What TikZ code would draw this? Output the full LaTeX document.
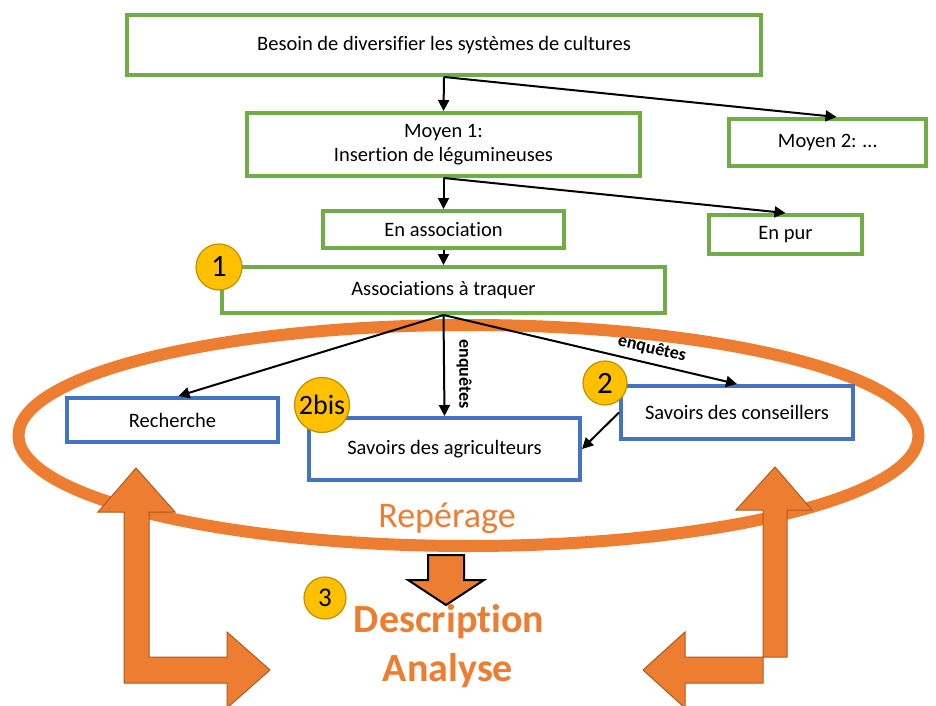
\documentclass[tikz,border=0pt]{standalone}
\usepackage{fontspec}
\setmainfont{Carlito}[Ligatures=NoCommon]
\usetikzlibrary{arrows.meta,calc}
\definecolor{lgreen}{HTML}{70AD47}
\definecolor{lblue}{HTML}{4472C4}
\definecolor{lorange}{HTML}{ED7D31}
\definecolor{dorange}{HTML}{AE5A21}
\definecolor{lgold}{HTML}{FFC000}
\definecolor{dgold}{HTML}{BF9000}
\begin{document}
\begin{tikzpicture}[x=1pt,y=-1pt,
  gbox/.style={draw=lgreen,line width=4pt,fill=white,rectangle,inner sep=0pt,align=center,font=\fontsize{20.5}{24}\selectfont},
  bbox/.style={draw=lblue,line width=4pt,fill=white,rectangle,inner sep=0pt,align=center,font=\fontsize{20.5}{24}\selectfont},
  arr/.style={line width=2pt,-{Triangle[length=11pt,width=11pt]}},
  lab/.style={font=\bfseries\fontsize{18}{20}\selectfont,inner sep=0pt},
  badge/.style={circle,draw=dgold,line width=1.2pt,fill=lgold,inner sep=0pt},
  bigarrow/.style={fill=lorange,draw=dorange,line width=1pt,line join=miter}
]
\useasboundingbox (0,0) rectangle (936,706);
\fill[white] (0,0) rectangle (936,706);

% ellipse (Repérage)
\draw[lorange,line width=12pt] (468.5,435.5) ellipse [x radius=450, y radius=110.5];

% boxes
\node[gbox,minimum width=634,minimum height=60] (besoin) at (444,45) {Besoin de diversifier les systèmes de cultures};
\node[gbox,minimum width=393,minimum height=63] (moyen1) at (443.5,144.5) {Moyen 1:\\Insertion de légumineuses};
\node[gbox,minimum width=197,minimum height=47] (moyen2) at (827.5,142.5) {Moyen 2: …};
\node[gbox,minimum width=241,minimum height=37] (enassoc) at (443.5,229.5) {En association};
\node[gbox,minimum width=153,minimum height=39] (enpur) at (785.5,234.5) {En pur};
\node[gbox,minimum width=443,minimum height=46] (traquer) at (443.5,290) {Associations à traquer};
\node[bbox,minimum width=211,minimum height=44] (recherche) at (172.5,420) {Recherche};
\node[bbox,minimum width=271,minimum height=62] (agri) at (444.5,449) {Savoirs des agriculteurs};
\node[bbox,minimum width=232,minimum height=53] (conseil) at (737,412.5) {Savoirs des conseillers};

% connectors
\draw[arr] (besoin.south) -- (moyen1.north);
\draw[arr] (besoin.south) -- ($(moyen2.north)+(9,0)$);
\draw[arr] (moyen1.south) -- (enassoc.north);
\draw[arr] (moyen1.south) -- (enpur.north);
\draw[arr] (enassoc.south) -- (traquer.north);
\draw[arr] (traquer.south) -- ($(recherche.north)+(6,0)$);
\draw[arr] (traquer.south) -- (agri.north);
\draw[arr] (traquer.south) -- (conseil.north);
\draw[arr] (conseil.west) -- (agri.east);
\node[lab,rotate=-90] (enq1) at (464,374) {enquêtes};
\node[lab,rotate=-13.2] (enq2) at (652,349) {enquêtes};

% badges
\node[badge,minimum size=46,font=\fontsize{31}{31}\selectfont] (b1) at (219,267) {1};
\node[badge,minimum size=55,font=\fontsize{28}{28}\selectfont] (b2bis) at (322,405) {2bis};
\node[badge,minimum size=44,font=\fontsize{31}{31}\selectfont] (b2) at (605,383) {2};
\node[badge,minimum size=42,font=\fontsize{27}{27}\selectfont] (b3) at (325,598) {3};

% big bent arrows
\draw[bigarrow] (136,468) -- (175,512) -- (149,512) -- (149,657) -- (227,657) -- (227,632) -- (270,670) -- (227,708) -- (227,683) -- (124,683) -- (124,512) -- (98,512) -- cycle;
\draw[bigarrow] (775,467) -- (812,510) -- (787,510) -- (787,657) -- (685,657) -- (685,632) -- (643,670) -- (685,708) -- (685,683) -- (763,683) -- (763,510) -- (736,510) -- cycle;

% small down arrow
\draw[fill=lorange,draw=black,line width=2pt,line join=miter] (428,555) -- (464,555) -- (464,580) -- (484,580) -- (446,605) -- (408,580) -- (428,580) -- cycle;

% texts
\node[text=lorange,font=\fontsize{36}{40}\selectfont] (reperage) at (447,518) {Repérage};
\node[text=lorange,font=\bfseries\fontsize{40}{44}\selectfont] (descr) at (449,622) {Description};
\node[text=lorange,font=\bfseries\fontsize{40}{44}\selectfont] (analyse) at (448,671) {Analyse};
\end{tikzpicture}
\end{document}
